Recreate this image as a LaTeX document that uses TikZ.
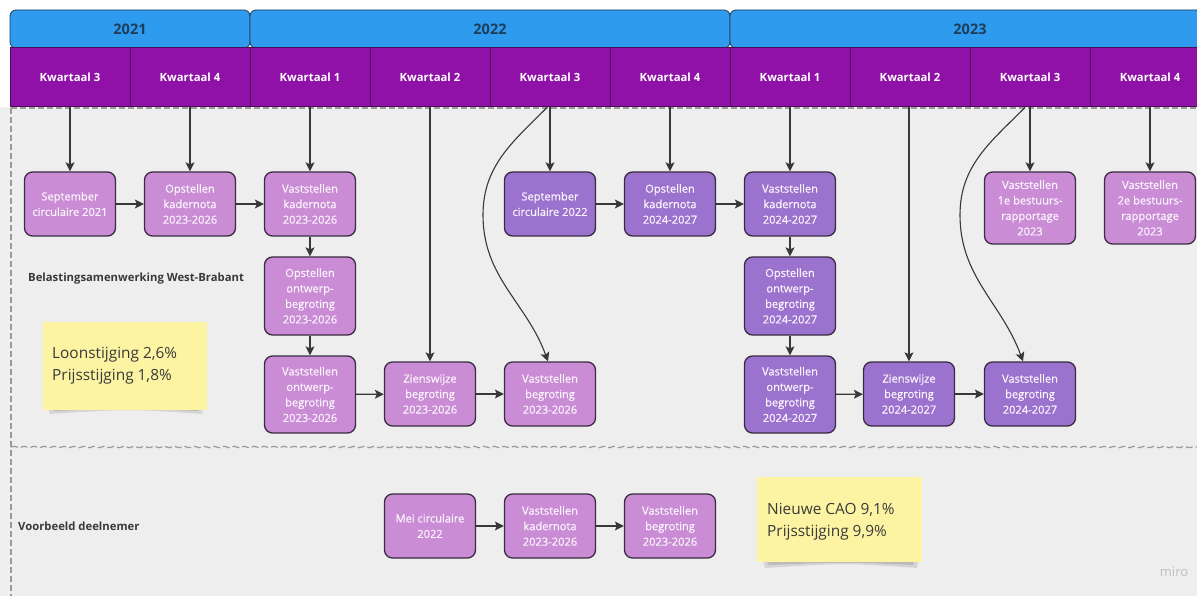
\documentclass[tikz,border=0pt]{standalone}
\usepackage{fontspec}
\setmainfont{Open Sans}
\newfontfamily\boxfont[FakeBold=0.6]{Open Sans}
\usetikzlibrary{arrows.meta,decorations.pathmorphing}
\definecolor{bggray}{HTML}{EEEEEE}
\definecolor{yearblue}{HTML}{2F9BEE}
\definecolor{yeartext}{HTML}{1E3D5C}
\definecolor{qpurple}{HTML}{9011A8}
\definecolor{qborder}{HTML}{4A0E55}
\definecolor{lightbox}{HTML}{CA8DD5}
\definecolor{darkbox}{HTML}{9B72CD}
\definecolor{boxborder}{HTML}{3A2C40}
\definecolor{arrowgray}{HTML}{383838}
\definecolor{sticky}{HTML}{FCF4A3}
\definecolor{labeltext}{HTML}{3A3A3A}
\definecolor{dashgray}{HTML}{9A9A9A}
\definecolor{boxtext}{HTML}{FAF2FC}
\tikzset{
  basebox/.style={draw=boxborder, line width=1.3pt, rounded corners=8pt, text=boxtext,
    align=center, inner sep=0pt, minimum width=91pt, minimum height=64pt,
    font=\boxfont\fontsize{11.1}{15.5}\selectfont},
  lbox/.style={basebox, fill=lightbox},
  dbox/.style={basebox, fill=darkbox},
  yearbox/.style={draw=yeartext, line width=0.8pt, fill=yearblue, rounded corners=6pt,
    minimum height=38pt, inner sep=0pt, text=yeartext, font=\bfseries\fontsize{14.5}{16}\selectfont},
  qbox/.style={draw=qborder, line width=1pt, fill=qpurple, minimum width=120pt,
    minimum height=59pt, inner sep=0pt, text=white, font=\bfseries\fontsize{11.3}{13}\selectfont},
  arr/.style={draw=arrowgray, line width=1.2pt, -{Stealth[length=9pt,width=9pt,inset=2pt]}},
  curvearr/.style={draw=arrowgray, line width=1.1pt, -{Stealth[length=9pt,width=9pt,inset=2pt]}},
  stickynote/.style={fill=sticky, draw=none},
  stickytext/.style={anchor=west, align=left, text=labeltext, inner sep=0pt,
    font=\fontsize{15.4}{22}\selectfont},
  rowlabel/.style={anchor=west, inner sep=0pt, text=labeltext, font=\bfseries\fontsize{11.3}{13}\selectfont},
  gridline/.style={draw=dashgray, line width=1.2pt, dash pattern=on 6pt off 3pt}
}
\begin{document}
\begin{tikzpicture}[x=1pt,y=-1pt]
\useasboundingbox (0,0) rectangle (1197,596);
% background
\fill[white] (0,0) rectangle (1197,596);
\fill[bggray] (0,107) rectangle (1197,596);

% years
\node[yearbox, minimum width=240pt] (y21) at (130,29) {2021};
\node[yearbox, minimum width=480pt] (y22) at (490,29) {2022};
\node[yearbox, minimum width=480pt] (y23) at (970,29) {2023};

% quarters
\node[qbox] (q1) at (70,77.5) {Kwartaal 3};
\node[qbox] (q2) at (190,77.5) {Kwartaal 4};
\node[qbox] (q3) at (310,77.5) {Kwartaal 1};
\node[qbox] (q4) at (430,77.5) {Kwartaal 2};
\node[qbox] (q5) at (550,77.5) {Kwartaal 3};
\node[qbox] (q6) at (670,77.5) {Kwartaal 4};
\node[qbox] (q7) at (790,77.5) {Kwartaal 1};
\node[qbox] (q8) at (910,77.5) {Kwartaal 2};
\node[qbox] (q9) at (1030,77.5) {Kwartaal 3};
\node[qbox] (q10) at (1150,77.5) {Kwartaal 4};

% swimlane borders
\coordinate (tl) at (11,108);
\coordinate (tr) at (1197,108);
\coordinate (bl) at (11,596);
\coordinate (ml) at (11,447);
\coordinate (mr) at (1197,447);
\draw[gridline] (tl) -- (tr);
\draw[gridline] (tl) -- (bl);
\draw[draw=dashgray, line width=1.2pt, dash pattern=on 7pt off 3pt,
  decorate, decoration={snake, amplitude=0.7pt, segment length=10pt}] (ml) -- (mr);

% labels
\node[rowlabel] (lab1) at (28,279) {Belastingsamenwerking West-Brabant};
\node[rowlabel] (lab2) at (18,526) {Voorbeeld deelnemer};

% sticky notes
\fill[black, opacity=0.10] (47,404) -- (204,404) -- (202,414) .. controls (130,409) .. (50,414) -- cycle;
\fill[black, opacity=0.12] (50,406) -- (200,406) -- (198,411) .. controls (130,408) .. (54,411) -- cycle;
\node[stickynote, minimum width=164pt, minimum height=88pt, inner sep=0pt] (st1) at (125,366) {};
\node[stickytext] (st1t) at (52,366) {Loonstijging 2,6\%\\Prijsstijging 1,8\%};

\fill[black, opacity=0.10] (762,557) -- (919,557) -- (917,568) .. controls (845,563) .. (765,568) -- cycle;
\fill[black, opacity=0.12] (765,559) -- (915,559) -- (913,565) .. controls (845,562) .. (769,565) -- cycle;
\node[stickynote, minimum width=165pt, minimum height=85pt, inner sep=0pt] (st2) at (839.5,519.5) {};
\node[stickytext] (st2t) at (767,521.5) {Nieuwe CAO 9,1\%\\Prijsstijging 9,9\%};

% watermark
\node[text=black!25, font=\fontsize{13}{15}\selectfont, inner sep=0pt] (miro) at (1174,572) {miro};

% 2023-2026 cycle
\node[lbox] (sc21) at (70,204) {September\\circulaire 2021};
\node[lbox] (ok23) at (190,204) {Opstellen\\kadernota\\2023-2026};
\node[lbox] (vk23) at (310,204) {Vaststellen\\kadernota\\2023-2026};
\node[lbox, minimum height=78pt] (oo23) at (310,296) {Opstellen\\ontwerp-\\begroting\\2023-2026};
\node[lbox, minimum height=77pt] (vo23) at (310,394.5) {Vaststellen\\ontwerp-\\begroting\\2023-2026};
\node[lbox] (zb23) at (430,394) {Zienswijze\\begroting\\2023-2026};
\node[lbox] (vb23) at (550,394) {Vaststellen\\begroting\\2023-2026};

% 2024-2027 cycle
\node[dbox] (sc22) at (550,204) {September\\circulaire 2022};
\node[dbox] (ok24) at (670,204) {Opstellen\\kadernota\\2024-2027};
\node[dbox] (vk24) at (790,204) {Vaststellen\\kadernota\\2024-2027};
\node[dbox, minimum height=78pt] (oo24) at (790,296) {Opstellen\\ontwerp-\\begroting\\2024-2027};
\node[dbox, minimum height=77pt] (vo24) at (790,394.5) {Vaststellen\\ontwerp-\\begroting\\2024-2027};
\node[dbox] (zb24) at (909,394) {Zienswijze\\begroting\\2024-2027};
\node[dbox] (vb24) at (1030,394) {Vaststellen\\begroting\\2024-2027};

% bestuursrapportages
\node[lbox, minimum height=72pt] (br1) at (1030,208) {Vaststellen\\1e bestuurs-\\rapportage\\2023};
\node[lbox, minimum height=72pt] (br2) at (1150,208) {Vaststellen\\2e bestuurs-\\rapportage\\2023};

% deelnemer
\node[lbox] (mc22) at (430,526) {Mei circulaire\\2022};
\node[lbox] (vkd) at (550,526) {Vaststellen\\kadernota\\2023-2026};
\node[lbox] (vbd) at (670,526) {Vaststellen\\begroting\\2023-2026};

% arrows from quarters
\draw[arr] (q1.south) -- (sc21.north);
\draw[arr] (q2.south) -- (ok23.north);
\draw[arr] (q3.south) -- (vk23.north);
\draw[arr] (q4.south) -- (zb23.north);
\draw[arr] (q5.south) -- (sc22.north);
\draw[arr] (q6.south) -- (ok24.north);
\draw[arr] (q7.south) -- (vk24.north);
\draw[arr] (zb24.north |- q8.south) -- (zb24.north);
\draw[arr] (q9.south) -- (br1.north);
\draw[arr] (q10.south) -- (br2.north);

% curved arrows
\draw[curvearr] ([xshift=-3pt]q5.south) to[out=225, in=90] (483,215) to[out=-90, in=110] ([xshift=-2pt]vb23.north);
\draw[curvearr] ([xshift=-5pt]q9.south) to[out=225, in=90] (960,215) to[out=-90, in=110] ([xshift=-7pt]vb24.north);

% flow arrows 2023-2026
\draw[arr] (sc21) -- (ok23);
\draw[arr] (ok23) -- (vk23);
\draw[arr] (vk23) -- (oo23);
\draw[arr] (oo23) -- (vo23);
\draw[arr] (vo23) -- (zb23);
\draw[arr] (zb23) -- (vb23);

% flow arrows 2024-2027
\draw[arr] (sc22) -- (ok24);
\draw[arr] (ok24) -- (vk24);
\draw[arr] (vk24) -- (oo24);
\draw[arr] (oo24) -- (vo24);
\draw[arr] (vo24) -- (zb24);
\draw[arr] (zb24) -- (vb24);

% deelnemer arrows
\draw[arr] (mc22) -- (vkd);
\draw[arr] (vkd) -- (vbd);
\end{tikzpicture}
\end{document}
